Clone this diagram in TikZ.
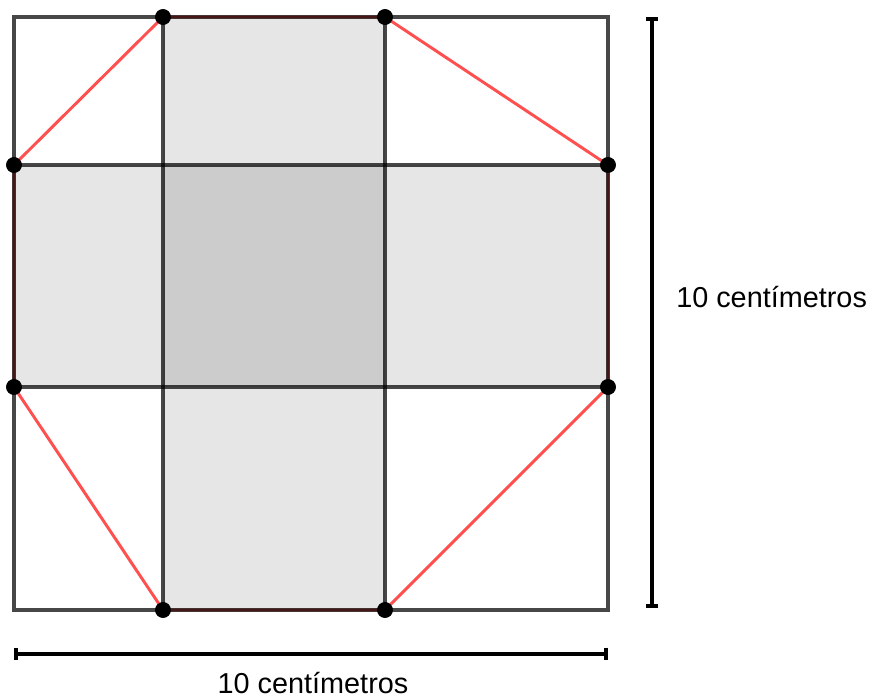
\documentclass[tikz,border=0pt]{standalone}
\usepackage{fontspec}
\setmainfont{Liberation Sans}
\usepackage{xcolor}
\usetikzlibrary{arrows.meta, positioning}
\definecolor{cellgray}{RGB}{230,230,230}
\definecolor{coregray}{RGB}{204,204,204}
\definecolor{octred}{RGB}{255,80,80}

\begin{document}
\begin{tikzpicture}[x=0.025cm, y=-0.025cm,
  gridline/.style={draw=black, draw opacity=0.72, line width=2.2pt},
  octline/.style={draw=octred, line width=2.1pt},
  vertex/.style={circle, fill=black, inner sep=0pt, minimum size=11pt},
  dimline/.style={line width=2.9pt, {Bar[width=9pt]}-{Bar[width=9pt]}},
  lbl/.style={font=\fontsize{20.5}{24}\selectfont, inner sep=0pt}
]
\useasboundingbox (0,0) rectangle (870,697);

% Corners and crossings
\coordinate (NW) at (14,17);
\coordinate (NE) at (608,17);
\coordinate (SW) at (14,610);
\coordinate (SE) at (608,610);

% Shaded cross
\fill[cellgray] (163,17) rectangle (385,610);
\fill[cellgray] (14,165) rectangle (608,387);
\fill[coregray] (163,165) rectangle (385,387);

% Octagon vertices
\node[vertex] (T1) at (163,17) {};
\node[vertex] (T2) at (385,17) {};
\node[vertex] (R1) at (608,165) {};
\node[vertex] (R2) at (608,387) {};
\node[vertex] (B2) at (385,610) {};
\node[vertex] (B1) at (163,610) {};
\node[vertex] (L2) at (14,387) {};
\node[vertex] (L1) at (14,165) {};

% Octagon
\draw[octline] (T1.center) -- (T2.center) -- (R1.center) -- (R2.center)
  -- (B2.center) -- (B1.center) -- (L2.center) -- (L1.center) -- cycle;

% Grid
\draw[gridline] (NW) -- (NE) -- (SE) -- (SW) -- cycle;
\draw[gridline] (T1.center) -- (B1.center);
\draw[gridline] (T2.center) -- (B2.center);
\draw[gridline] (L1.center) -- (R1.center);
\draw[gridline] (L2.center) -- (R2.center);

% Dots on top
\foreach \p in {T1,T2,R1,R2,B2,B1,L2,L1}
  \fill (\p) circle (5.6pt);

% Dimensions
\coordinate (vtop) at (652,17);
\coordinate (vbot) at (652,608);
\coordinate (hleft) at (14,654);
\coordinate (hright) at (608,654);
\draw[dimline] (vtop) -- (vbot);
\draw[dimline] (hleft) -- (hright);

\node[lbl, anchor=west] (vlabel) at (676,297) {10 centímetros};
\node[lbl, anchor=base] (hlabel) at (313,693) {10 centímetros};
\end{tikzpicture}
\end{document}
